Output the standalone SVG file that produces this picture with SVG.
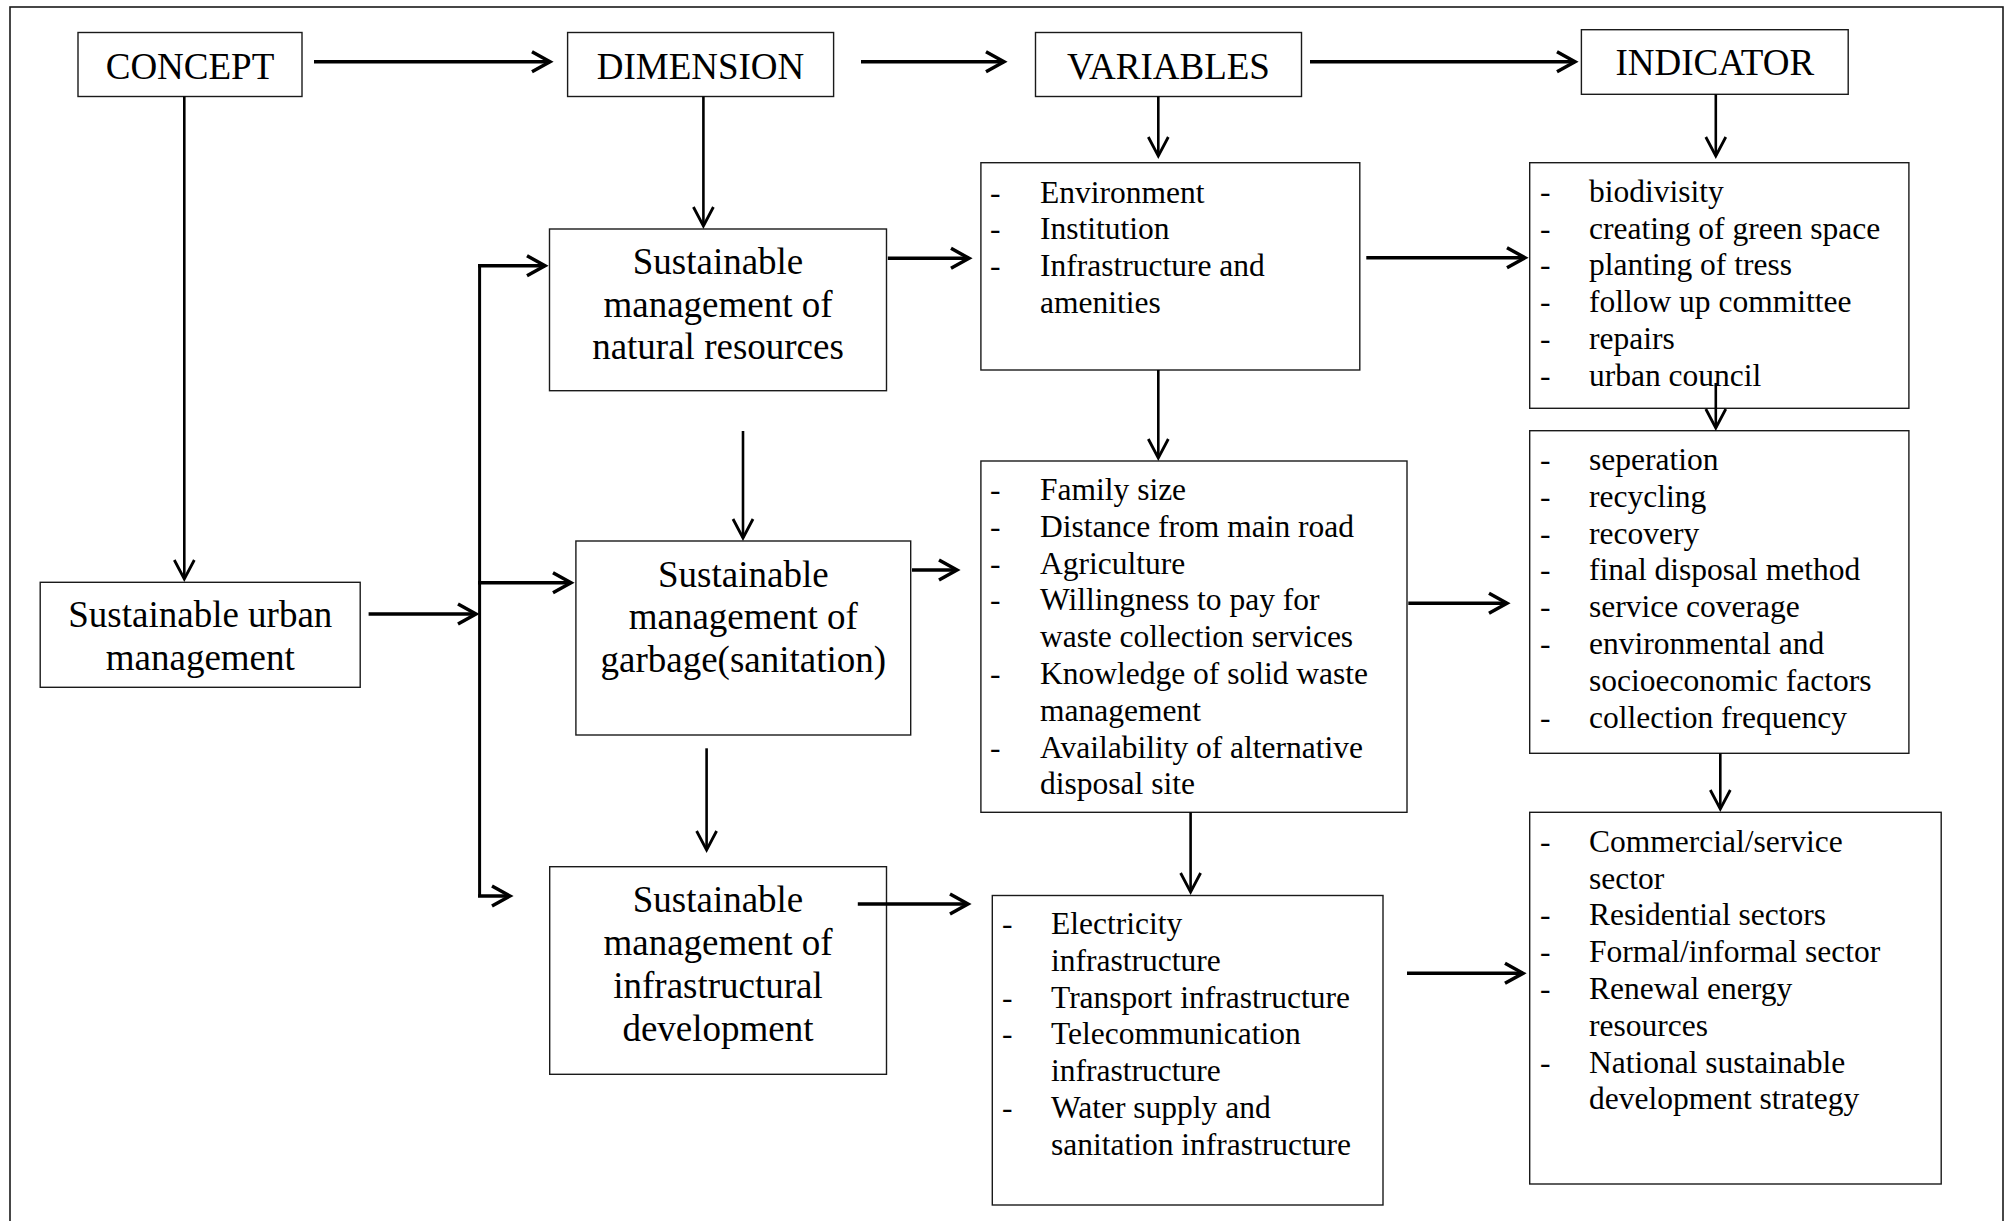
<svg xmlns="http://www.w3.org/2000/svg" width="2013" height="1221" viewBox="0 0 2013 1221">
<style>
.box{fill:#fff;stroke:#1a1a1a;stroke-width:1.4}
.t{font-family:"Liberation Serif","Times New Roman",serif;font-size:37px;fill:#000;text-anchor:middle}
.l{font-family:"Liberation Serif","Times New Roman",serif;font-size:31.5px;fill:#000}
.h{fill:none;stroke:#000;stroke-width:3.5;marker-end:url(#ah)}
.v{fill:none;stroke:#000;stroke-width:2.6;marker-end:url(#av)}
.bus{fill:none;stroke:#000;stroke-width:3}
</style>
<defs>
<marker id="ah" markerUnits="userSpaceOnUse" markerWidth="30" markerHeight="30" viewBox="-24 -15 30 30" refX="0" refY="0" orient="auto"><path d="M-18,-10 L0,0 L-18,10" fill="none" stroke="#000" stroke-width="3.5"/></marker>
<marker id="av" markerUnits="userSpaceOnUse" markerWidth="30" markerHeight="30" viewBox="-24 -15 30 30" refX="0" refY="0" orient="auto"><path d="M-19,-10 L0,0 L-19,10" fill="none" stroke="#000" stroke-width="2.8"/></marker>
</defs>
<rect x="0" y="0" width="2013" height="1221" fill="#fff"/>
<rect x="10" y="7" width="1993" height="1240" fill="none" stroke="#1a1a1a" stroke-width="1.6"/>

<g id="concept"><rect class="box" x="78" y="32.5" width="224" height="64"/><text class="t" x="190" y="79">CONCEPT</text></g>
<g id="dimension"><rect class="box" x="567.6" y="32.5" width="266" height="64"/><text class="t" x="700.5" y="79">DIMENSION</text></g>
<g id="variables"><rect class="box" x="1035.5" y="32.5" width="266" height="64"/><text class="t" x="1168.5" y="79">VARIABLES</text></g>
<g id="indicator"><rect class="box" x="1581.4" y="29.7" width="266.8" height="64.6"/><text class="t" x="1714.8" y="75">INDICATOR</text></g>

<g id="urban"><rect class="box" x="40.2" y="582.3" width="320" height="105"/><text class="t" x="200.3" y="626.7">Sustainable urban</text><text class="t" x="200.3" y="670">management</text></g>

<g id="natres"><rect class="box" x="549.5" y="229" width="337" height="161.7"/><text class="t" x="718" y="273.8">Sustainable</text><text class="t" x="718" y="316.5">management of</text><text class="t" x="718" y="359">natural resources</text></g>
<g id="garbage"><rect class="box" x="575.9" y="541" width="334.8" height="194"/><text class="t" x="743.3" y="586.7">Sustainable</text><text class="t" x="743.3" y="629.3">management of</text><text class="t" x="743.3" y="671.7">garbage(sanitation)</text></g>
<g id="infra"><rect class="box" x="549.7" y="866.7" width="336.8" height="207.6"/><text class="t" x="718" y="911.7">Sustainable</text><text class="t" x="718" y="955">management of</text><text class="t" x="718" y="998.3">infrastructural</text><text class="t" x="718" y="1040.7">development</text></g>

<g id="var1"><rect class="box" x="980.9" y="162.7" width="378.9" height="207.3"/>
<text class="l" x="990" y="202.5">-</text><text class="l" x="1040" y="202.5">Environment</text>
<text class="l" x="990" y="239.3">-</text><text class="l" x="1040" y="239.3">Institution</text>
<text class="l" x="990" y="276.1">-</text><text class="l" x="1040" y="276.1">Infrastructure and</text>
<text class="l" x="1040" y="312.9">amenities</text></g>

<g id="var2"><rect class="box" x="980.9" y="461" width="426.1" height="351.3"/>
<text class="l" x="990" y="500">-</text><text class="l" x="1040" y="500">Family size</text>
<text class="l" x="990" y="536.8">-</text><text class="l" x="1040" y="536.8">Distance from main road</text>
<text class="l" x="990" y="573.6">-</text><text class="l" x="1040" y="573.6">Agriculture</text>
<text class="l" x="990" y="610.4">-</text><text class="l" x="1040" y="610.4">Willingness to pay for</text>
<text class="l" x="1040" y="647.2">waste collection services</text>
<text class="l" x="990" y="684">-</text><text class="l" x="1040" y="684">Knowledge of solid waste</text>
<text class="l" x="1040" y="720.8">management</text>
<text class="l" x="990" y="757.6">-</text><text class="l" x="1040" y="757.6">Availability of alternative</text>
<text class="l" x="1040" y="794.4">disposal site</text></g>

<g id="var3"><rect class="box" x="992.3" y="895.5" width="390.7" height="309.5"/>
<text class="l" x="1002" y="934">-</text><text class="l" x="1051" y="934">Electricity</text>
<text class="l" x="1051" y="970.8">infrastructure</text>
<text class="l" x="1002" y="1007.6">-</text><text class="l" x="1051" y="1007.6">Transport infrastructure</text>
<text class="l" x="1002" y="1044.4">-</text><text class="l" x="1051" y="1044.4">Telecommunication</text>
<text class="l" x="1051" y="1081.2">infrastructure</text>
<text class="l" x="1002" y="1118">-</text><text class="l" x="1051" y="1118">Water supply and</text>
<text class="l" x="1051" y="1154.8">sanitation infrastructure</text></g>

<g id="ind1"><rect class="box" x="1529.7" y="162.7" width="379.2" height="245.6"/>
<text class="l" x="1540" y="201.7">-</text><text class="l" x="1589" y="201.7">biodivisity</text>
<text class="l" x="1540" y="238.5">-</text><text class="l" x="1589" y="238.5">creating of green space</text>
<text class="l" x="1540" y="275.3">-</text><text class="l" x="1589" y="275.3">planting of tress</text>
<text class="l" x="1540" y="312.1">-</text><text class="l" x="1589" y="312.1">follow up committee</text>
<text class="l" x="1540" y="348.9">-</text><text class="l" x="1589" y="348.9">repairs</text>
<text class="l" x="1540" y="385.7">-</text><text class="l" x="1589" y="385.7">urban council</text></g>

<g id="ind2"><rect class="box" x="1529.7" y="430.7" width="379.2" height="322.6"/>
<text class="l" x="1540" y="470">-</text><text class="l" x="1589" y="470">seperation</text>
<text class="l" x="1540" y="506.8">-</text><text class="l" x="1589" y="506.8">recycling</text>
<text class="l" x="1540" y="543.6">-</text><text class="l" x="1589" y="543.6">recovery</text>
<text class="l" x="1540" y="580.4">-</text><text class="l" x="1589" y="580.4">final disposal method</text>
<text class="l" x="1540" y="617.2">-</text><text class="l" x="1589" y="617.2">service coverage</text>
<text class="l" x="1540" y="654">-</text><text class="l" x="1589" y="654">environmental and</text>
<text class="l" x="1589" y="690.8">socioeconomic factors</text>
<text class="l" x="1540" y="727.6">-</text><text class="l" x="1589" y="727.6">collection frequency</text></g>

<g id="ind3"><rect class="box" x="1529.7" y="812.3" width="411.5" height="371.7"/>
<text class="l" x="1540" y="851.7">-</text><text class="l" x="1589" y="851.7">Commercial/service</text>
<text class="l" x="1589" y="888.5">sector</text>
<text class="l" x="1540" y="925.3">-</text><text class="l" x="1589" y="925.3">Residential sectors</text>
<text class="l" x="1540" y="962.1">-</text><text class="l" x="1589" y="962.1">Formal/informal sector</text>
<text class="l" x="1540" y="998.9">-</text><text class="l" x="1589" y="998.9">Renewal energy</text>
<text class="l" x="1589" y="1035.7">resources</text>
<text class="l" x="1540" y="1072.5">-</text><text class="l" x="1589" y="1072.5">National sustainable</text>
<text class="l" x="1589" y="1109.3">development strategy</text></g>

<g id="connectors">
<path class="h" d="M314,61.7 H550"/>
<path class="h" d="M861,61.7 H1004"/>
<path class="h" d="M1310,61.7 H1575"/>
<path class="v" d="M184.3,96.5 V579"/>
<path class="v" d="M703.4,96.5 V226"/>
<path class="v" d="M1158.3,96.5 V156"/>
<path class="v" d="M1715.8,94.3 V156"/>
<path class="h" d="M368.6,614 H476"/>
<path class="bus" d="M479.6,265.7 V896"/>
<path class="h" d="M478,265.7 H545"/>
<path class="h" d="M478,582.7 H571"/>
<path class="h" d="M478,896 H510"/>
<path class="v" d="M743,431 V538"/>
<path class="v" d="M706.6,748.3 V850"/>
<path class="h" d="M887.8,258.3 H969"/>
<path class="h" d="M912,570 H957"/>
<path class="h" d="M857.8,904 H968"/>
<path class="v" d="M1158.3,370 V458"/>
<path class="v" d="M1190.6,812.3 V892"/>
<path class="h" d="M1366.3,257.7 H1525"/>
<path class="h" d="M1408.3,603.3 H1507"/>
<path class="h" d="M1407,973.3 H1523"/>
<path class="v" d="M1715.8,383 V428"/>
<path class="v" d="M1720.3,753.3 V809"/>
</g>
</svg>
